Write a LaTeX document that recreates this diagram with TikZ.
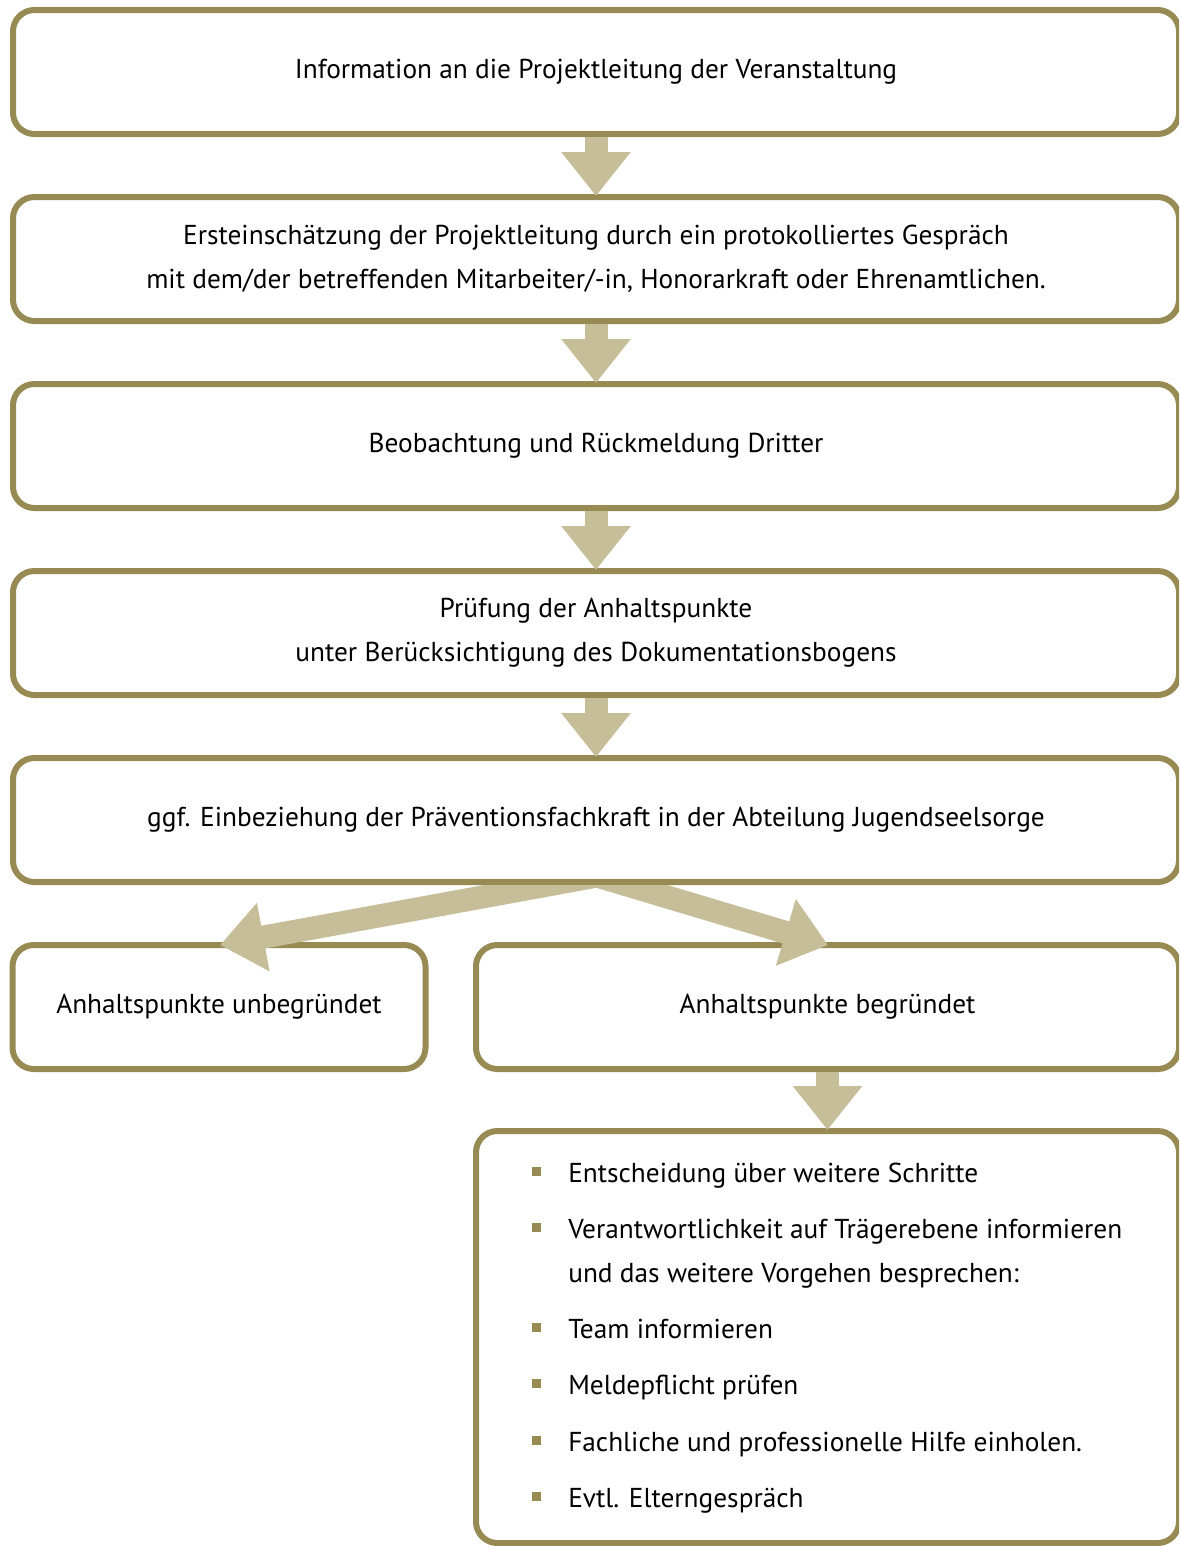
\documentclass[tikz,border=0pt]{standalone}
\usepackage{fontspec}
\setmainfont{PT Sans}
\usetikzlibrary{arrows.meta,calc}
\definecolor{frameol}{HTML}{978A52}
\definecolor{arrowbg}{HTML}{C5BE98}
\newcommand{\bxfont}{\fontsize{20.5pt}{33pt}\selectfont}
\begin{document}
\begin{tikzpicture}[x=0.75pt,y=-0.75pt,
  box/.style={draw=frameol, line width=4.5pt, rounded corners=16pt, fill=white,
    align=center, inner sep=0pt, font=\bxfont},
  wide/.style={minimum width=874.5pt, minimum height=93pt},
  bigarrow/.style={draw=arrowbg, line width=17.25pt,
    -{Triangle[length=33pt,width=50pt]}},
  bul/.style={fill=frameol, inner sep=0pt, minimum size=6.75pt},
  item/.style={anchor=base west, inner sep=0pt, align=left, font=\bxfont}]
\useasboundingbox (0,0) rectangle (1179,1546);
\clip (0,0) rectangle (1179,1546);

\node[box, wide] (b1) at (596,72) {Information an die Projektleitung der Veranstaltung};
\node[box, wide] (b2) at (596,259) {Ersteinschätzung der Projektleitung durch ein protokolliertes Gespräch\\mit dem/der betreffenden Mitarbeiter/-in, Honorarkraft oder Ehrenamtlichen.};
\node[box, wide] (b3) at (596,446) {Beobachtung und Rückmeldung Dritter};
\node[box, wide] (b4) at (596,633) {Prüfung der Anhaltspunkte\\unter Berücksichtigung des Dokumentationsbogens};
\node[box, wide] (b5) at (596,820) {ggf. Einbeziehung der Präventionsfachkraft in der Abteilung Jugendseelsorge};
\node[box, minimum width=309.75pt, minimum height=93pt] (bl) at (219,1007) {Anhaltspunkte unbegründet};
\node[box, minimum width=527.25pt, minimum height=93pt] (br) at (827.5,1007) {Anhaltspunkte begründet};
\node[box, minimum width=527.25pt, minimum height=309pt] (b7) at (827.5,1337) {};

\draw[bigarrow] (b1.south) -- ($(b2.north)+(0,2)$);
\draw[bigarrow] (b2.south) -- ($(b3.north)+(0,2)$);
\draw[bigarrow] (b3.south) -- ($(b4.north)+(0,2)$);
\draw[bigarrow] (b4.south) -- ($(b5.north)+(0,2)$);
\draw[bigarrow] (br.south) -- ($(b7.north)+(0,2)$);

\coordinate (J) at (597,876);
\coordinate (tL) at (220,945);
\coordinate (tR) at (828,945);
\begin{scope}
  \clip (0,885) rectangle (1179,1546);
  \draw[bigarrow] (J) -- (tL);
  \draw[bigarrow] (J) -- (tR);
\end{scope}

\node[bul] (s1) at (536.5,1171) {};
\node[bul] (s2) at (536.5,1227) {};
\node[bul] (s3) at (536.5,1327) {};
\node[bul] (s4) at (536.5,1383) {};
\node[bul] (s5) at (536.5,1440) {};
\node[bul] (s6) at (536.5,1496) {};
\node[item] (i1) at (568,1182) {Entscheidung über weitere Schritte};
\node[item] (i2) at (568,1282) {Verantwortlichkeit auf Trägerebene informieren\\und das weitere Vorgehen besprechen:};
\node[item] (i3) at (568,1338) {Team informieren};
\node[item] (i4) at (568,1394) {Meldepflicht prüfen};
\node[item] (i5) at (568,1451) {Fachliche und professionelle Hilfe einholen.};
\node[item] (i6) at (568,1507) {Evtl. Elterngespräch};
\end{tikzpicture}
\end{document}
